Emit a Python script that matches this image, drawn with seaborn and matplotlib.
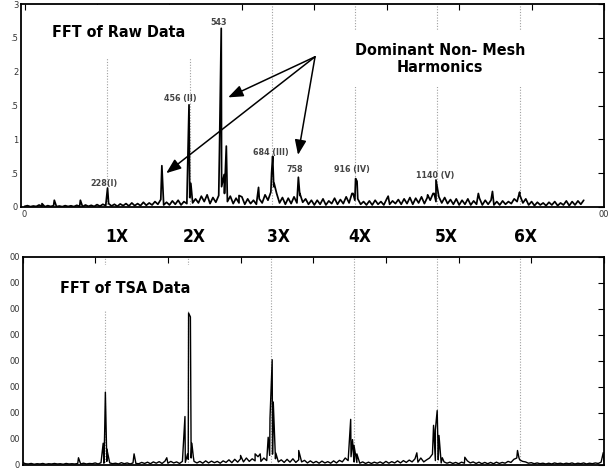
import numpy as np
import pandas as pd
import matplotlib
matplotlib.use("Agg")
import matplotlib.pyplot as plt
import seaborn as sns

# ---------------- data ----------------
# Raw-data FFT: baseline sampled every 8 Hz from 0 Hz
raw_step = 8
raw_base = [
    0.01, 0.02, 0.005, 0.015, 0.008, 0.03, 0.01, 0.004, 0.02, 0.008,
    0.02, 0.006, 0.015, 0.005, 0.02, 0.008, 0.018, 0.006, 0.025, 0.01,
    0.005, 0.03, 0.01, 0.025, 0.008, 0.035, 0.012, 0.04, 0.02, 0.05,
    0.015, 0.04, 0.01, 0.045, 0.02, 0.05, 0.015, 0.06, 0.02, 0.05,
    0.02, 0.07, 0.025, 0.06, 0.03, 0.08, 0.04, 0.11, 0.03, 0.07,
    0.03, 0.09, 0.04, 0.1, 0.03, 0.08, 0.05, 0.14, 0.06, 0.12,
    0.06, 0.16, 0.08, 0.18, 0.05, 0.14, 0.07, 0.17, 0.3, 0.2,
    0.08, 0.16, 0.05, 0.13, 0.06, 0.15, 0.04, 0.12, 0.05, 0.1,
    0.04, 0.12, 0.06, 0.18, 0.1, 0.22, 0.3, 0.2, 0.06, 0.14,
    0.04, 0.13, 0.05, 0.15, 0.06, 0.17, 0.07, 0.12, 0.04, 0.1,
    0.03, 0.1, 0.04, 0.12, 0.03, 0.09, 0.05, 0.13, 0.04, 0.11,
    0.05, 0.15, 0.06, 0.2, 0.1, 0.12, 0.04, 0.08, 0.03, 0.09,
    0.03, 0.1, 0.04, 0.08, 0.03, 0.12, 0.04, 0.09, 0.05, 0.11,
    0.04, 0.12, 0.05, 0.14, 0.04, 0.13, 0.06, 0.15, 0.05, 0.14,
    0.1, 0.2, 0.08, 0.15, 0.06, 0.14, 0.05, 0.11, 0.04, 0.12,
    0.03, 0.1, 0.04, 0.12, 0.03, 0.09, 0.04, 0.13, 0.03, 0.1,
    0.04, 0.1, 0.03, 0.08, 0.03, 0.09, 0.04, 0.08, 0.05, 0.12,
    0.08, 0.17, 0.06, 0.12, 0.03, 0.08, 0.02, 0.07, 0.03, 0.06,
    0.02, 0.07, 0.03, 0.08, 0.02, 0.06, 0.03, 0.09, 0.02, 0.08,
    0.03, 0.09, 0.04, 0.1,
]
raw_peak_freq = [48, 82, 154, 229, 379, 454, 459, 538, 543, 551, 557, 592,
                 646, 682, 685, 689, 756, 760, 907, 914, 918, 1004, 1113,
                 1131, 1136, 1253, 1292, 1367]
raw_peak_amp = [0.05, 0.1, 0.1, 0.28, 0.61, 1.51, 0.35, 0.8, 2.64, 0.48, 0.9, 0.17,
                0.29, 0.5, 0.75, 0.35, 0.44, 0.2, 0.2, 0.42, 0.38, 0.16, 0.18,
                0.2, 0.4, 0.2, 0.23, 0.22]

# TSA-data FFT: baseline sampled every 8 Hz from 0 Hz
tsa_step = 8
tsa_base = [
    8, 3, 2, 4, 1, 3, 2, 4, 1, 3,
    2, 4, 2, 3, 1, 4, 2, 3, 2, 4,
    2, 5, 2, 4, 3, 6, 2, 7, 5, 12,
    6, 3, 5, 2, 7, 3, 6, 2, 6, 4,
    3, 8, 4, 9, 3, 10, 5, 11, 4, 13,
    5, 12, 6, 10, 4, 12, 8, 20, 25, 12,
    6, 12, 5, 14, 6, 13, 7, 12, 5, 14,
    8, 18, 7, 20, 9, 22, 10, 25, 12, 22,
    14, 30, 12, 25, 15, 35, 40, 22, 10, 18,
    8, 20, 9, 22, 8, 18, 10, 16, 6, 14,
    6, 12, 5, 13, 6, 11, 5, 14, 6, 16,
    10, 25, 15, 30, 10, 8, 5, 10, 4, 9,
    4, 9, 5, 10, 4, 12, 5, 11, 6, 14,
    6, 15, 8, 17, 10, 22, 9, 25, 10, 18,
    25, 40, 15, 18, 6, 10, 5, 9, 4, 8,
    3, 9, 5, 14, 6, 10, 4, 9, 3, 8,
    3, 8, 3, 9, 4, 8, 5, 12, 8, 20,
    25, 18, 12, 10, 5, 7, 3, 6, 3, 5,
    2, 5, 2, 6, 3, 5, 2, 5, 3, 6,
    2, 5, 3, 6, 2, 5, 3, 6, 4, 9,
    10,
]
tsa_peak_freq = [154, 222, 226, 228, 232, 307, 397, 447, 454, 457, 462, 466, 470,
                 600, 640, 654, 676, 681, 687, 690, 697, 760, 903, 908, 912, 920,
                 1085, 1131, 1136, 1141, 1146, 1155, 1217, 1362, 1366, 1598]
tsa_peak_amp = [26, 82, 120, 279, 60, 41, 26, 185, 40, 584, 569, 82, 30,
                35, 41, 41, 105, 178, 404, 241, 44, 54, 174, 96, 74, 41,
                45, 151, 134, 208, 112, 26, 28, 54, 26, 46]

harmonic_freqs = [228, 456, 684, 912, 1140, 1368]
harmonic_names = ["1X", "2X", "3X", "4X", "5X", "6X"]

raw_labels = ["543", "456 (II)", "228(I)", "684 (III)", "758", "916 (IV)", "1140 (V)"]
raw_label_x = [537, 429, 220, 681, 747, 904, 1134]
raw_label_y = [2.73, 1.60, 0.35, 0.81, 0.55, 0.56, 0.46]

top_ytick_labels = ["0", ".5", "1", ".5", "2", ".5", "3"]
bot_ytick_labels = ["0", "00", "00", "00", "00", "00", "00", "00", "00"]


def build(base, step, pf, pa):
    f = list(np.arange(len(base)) * step) + list(pf)
    a = list(base) + list(pa)
    df = pd.DataFrame({"freq": f, "amp": a}).sort_values("freq", kind="mergesort")
    return df.reset_index(drop=True)


raw_df = build(raw_base, raw_step, raw_peak_freq, raw_peak_amp)
tsa_df = build(tsa_base, tsa_step, tsa_peak_freq, tsa_peak_amp)

# ---------------- figure ----------------
sns.set_style("white")
plt.rcParams["font.family"] = ["DejaVu Sans"]

W, H = 614, 470
fig = plt.figure(figsize=(W / 100, H / 100), dpi=100)
ax1 = fig.add_axes([21 / W, 1 - 207 / H, (604 - 21) / W, (207 - 4) / H])
ax2 = fig.add_axes([22.5 / W, 1 - 464.5 / H, (604 - 22.5) / W, (464.5 - 257) / H])

bold_font = dict(family="DejaVu Sans", fontstretch="condensed", fontweight="bold", color="black")

for ax in (ax1, ax2):
    for s in ax.spines.values():
        s.set_color("black")
        s.set_linewidth(1.3)
        s.set_zorder(20)
    ax.tick_params(direction="in", top=True, right=True, length=4, width=0.8,
                   colors="black", labelsize=6, labelcolor="#333333", pad=2)
    for hf in harmonic_freqs:
        ax.axvline(hf, color="#a0a0a0", lw=0.8, ls=(0, (1, 1.5)), zorder=1)

# top: raw data
sns.lineplot(data=raw_df, x="freq", y="amp", ax=ax1, color="black", lw=1.25,
             estimator=None, sort=False, zorder=3)
ax1.set_xlim(-10, 1600)
ax1.set_ylim(0, 3)
ax1.set_yticks(np.arange(0, 3.01, 0.5))
ax1.set_yticklabels(top_ytick_labels)
ax1.set_xticks(np.arange(0, 1601, 200))
ax1.set_xticklabels(["0", "", "", "", "", "", "", "", "00"])
ax1.set_xlabel("")
ax1.set_ylabel("")

ax1.text(76, 2.58, "FFT of Raw Data", fontsize=11.5, ha="left", va="center", zorder=5,
         bbox=dict(facecolor="white", edgecolor="none", pad=14), **bold_font)
ax1.text(1147, 2.19, "Dominant Non- Mesh\nHarmonics", fontsize=11.5, ha="center", va="center",
         linespacing=1.15, zorder=5,
         bbox=dict(facecolor="white", edgecolor="none", pad=9), **bold_font)
for t, x, y in zip(raw_labels, raw_label_x, raw_label_y):
    ax1.text(x, y, t, fontsize=5.8, ha="center", va="center", color="#444444",
             fontweight="bold", zorder=6)

src = (802, 2.22)
for tgt in [(562, 1.62), (391, 0.50), (755, 0.77)]:
    ax1.annotate("", xy=tgt, xytext=src, zorder=7,
                 arrowprops=dict(arrowstyle="-|>,head_length=0.9,head_width=0.35",
                                 color="black", lw=1.1, shrinkA=0, shrinkB=0))

# bottom: TSA data
sns.lineplot(data=tsa_df, x="freq", y="amp", ax=ax2, color="black", lw=1.0,
             estimator=None, sort=False, zorder=3)
ax2.set_xlim(0, 1600)
ax2.set_ylim(0, 800)
ax2.set_yticks(np.arange(0, 801, 100))
ax2.set_yticklabels(bot_ytick_labels)
ax2.set_xticks(np.arange(0, 1601, 200))
ax2.set_xticklabels([])
ax2.set_xlabel("")
ax2.set_ylabel("")
ax2.text(103, 680, "FFT of TSA Data", fontsize=11.5, ha="left", va="center", zorder=5,
         bbox=dict(facecolor="white", edgecolor="none", pad=11), **bold_font)

# harmonic order labels between the panels
hx = [117, 194, 278, 360, 446, 525]
for name, x in zip(harmonic_names, hx):
    fig.text(x / W, 1 - 237 / H, name, fontsize=12.5, ha="center", va="center", **bold_font)

fig.savefig("out.png", dpi=100)
